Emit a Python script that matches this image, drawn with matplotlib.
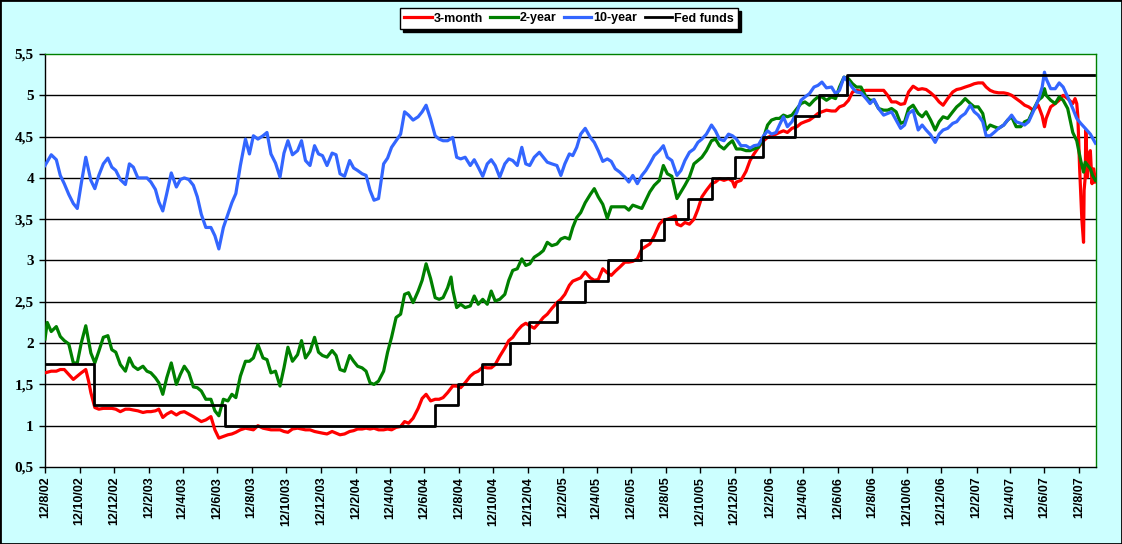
import matplotlib
matplotlib.use("Agg")
import matplotlib.pyplot as plt
import pandas as pd
from matplotlib.lines import Line2D
from matplotlib.patches import Rectangle

# ---------------- data ----------------
# Common sampling dates: 12 Aug 2002, 23 Aug 2002, then the 1st/8th/15th/23rd
# of every month Sep 2002 .. Aug 2007, then 1 Sep 2007.
first_dates = ["2002-08-12", "2002-08-23"]
week_days = [1, 8, 15, 23]
month_start, month_end = "2002-09", "2007-08"
last_dates = ["2007-09-01"]

ten_year = [
    4.15, 4.28,
    4.22, 4.03, 3.93, 3.80, 3.69, 3.63, 3.93, 4.25, 3.97, 3.87, 4.03, 4.17, 4.24, 4.13, 4.09, 3.98,
    3.92, 4.17, 4.13, 4.00, 4.00, 4.00, 3.95, 3.86, 3.71, 3.60, 3.81, 4.06, 3.89, 3.98, 4.00, 3.98,
    3.91, 3.77, 3.56, 3.40, 3.40, 3.30, 3.14, 3.40, 3.56, 3.70, 3.81, 4.15, 4.47, 4.29, 4.51, 4.47,
    4.51, 4.55, 4.29, 4.18, 4.01, 4.30, 4.45, 4.28, 4.33, 4.45, 4.21, 4.15, 4.39, 4.29, 4.27, 4.15,
    4.30, 4.28, 4.05, 4.02, 4.21, 4.12, 4.09, 4.05, 4.03, 3.85, 3.73, 3.75, 4.17, 4.24, 4.37, 4.45,
    4.53, 4.80, 4.76, 4.70, 4.74, 4.80, 4.88, 4.71, 4.51, 4.47, 4.45, 4.45, 4.49, 4.25, 4.23, 4.25,
    4.15, 4.22, 4.13, 4.02, 4.17, 4.22, 4.15, 4.01, 4.17, 4.23, 4.21, 4.15, 4.37, 4.17, 4.15, 4.25,
    4.31, 4.25, 4.19, 4.17, 4.15, 4.03, 4.17, 4.29, 4.27, 4.37, 4.53, 4.60, 4.49, 4.43, 4.33, 4.20,
    4.23, 4.20, 4.11, 4.07, 4.01, 3.95, 4.03, 3.93, 4.03, 4.09, 4.17, 4.27, 4.33, 4.39, 4.25, 4.21,
    4.03, 4.09, 4.21, 4.31, 4.35, 4.43, 4.47, 4.53, 4.64, 4.57, 4.47, 4.45, 4.53, 4.51, 4.47, 4.39,
    4.39, 4.36, 4.39, 4.40, 4.51, 4.57, 4.53, 4.55, 4.64, 4.74, 4.62, 4.68, 4.80, 4.94, 4.98, 5.02,
    5.10, 5.12, 5.16, 5.09, 5.10, 5.02, 5.06, 5.22, 5.16, 5.09, 5.04, 5.03, 4.96, 4.90, 4.95, 4.84,
    4.76, 4.78, 4.80, 4.70, 4.60, 4.64, 4.78, 4.82, 4.58, 4.64, 4.58, 4.52, 4.43, 4.53, 4.58, 4.60,
    4.66, 4.68, 4.74, 4.78, 4.88, 4.80, 4.76, 4.68, 4.51, 4.51, 4.55, 4.60, 4.64, 4.70, 4.76, 4.68,
    4.66, 4.64, 4.68, 4.80, 4.94, 5.10, 5.20, 5.08, 5.08, 5.15, 5.10, 4.98, 4.84, 4.72, 4.66, 4.60,
    4.53,
]
ten_year_extra_dates = ["2007-06-12", "2007-09-10"]
ten_year_extra = [5.28, 4.42]

two_year = [
    2.05, 2.14,
    2.20, 2.08, 2.03, 1.99, 1.76, 1.76, 2.00, 2.21, 1.88, 1.76, 1.90, 2.07, 2.09, 1.92, 1.89, 1.74,
    1.66, 1.82, 1.72, 1.68, 1.72, 1.66, 1.64, 1.58, 1.52, 1.38, 1.58, 1.76, 1.50, 1.62, 1.72, 1.64,
    1.47, 1.46, 1.42, 1.32, 1.32, 1.18, 1.12, 1.32, 1.30, 1.38, 1.34, 1.60, 1.78, 1.78, 1.82, 1.98,
    1.82, 1.80, 1.64, 1.66, 1.48, 1.70, 1.95, 1.78, 1.86, 2.03, 1.82, 1.90, 2.07, 1.89, 1.85, 1.83,
    1.91, 1.85, 1.68, 1.66, 1.85, 1.78, 1.72, 1.70, 1.66, 1.52, 1.50, 1.54, 1.66, 1.89, 2.07, 2.31,
    2.35, 2.59, 2.61, 2.49, 2.63, 2.76, 2.96, 2.78, 2.55, 2.53, 2.55, 2.67, 2.65, 2.43, 2.47, 2.43,
    2.45, 2.57, 2.47, 2.53, 2.47, 2.63, 2.51, 2.53, 2.59, 2.76, 2.88, 2.90, 3.02, 2.94, 2.96, 3.04,
    3.08, 3.12, 3.22, 3.18, 3.20, 3.26, 3.28, 3.26, 3.40, 3.52, 3.58, 3.70, 3.80, 3.87, 3.77, 3.68,
    3.51, 3.65, 3.65, 3.65, 3.65, 3.61, 3.67, 3.65, 3.63, 3.73, 3.83, 3.91, 3.97, 4.15, 4.05, 4.02,
    3.75, 3.83, 3.91, 4.01, 4.17, 4.21, 4.25, 4.33, 4.45, 4.47, 4.39, 4.35, 4.41, 4.45, 4.35, 4.35,
    4.33, 4.33, 4.35, 4.37, 4.49, 4.64, 4.70, 4.72, 4.72, 4.76, 4.74, 4.76, 4.84, 4.90, 4.92, 4.88,
    4.94, 4.98, 4.98, 4.94, 4.98, 4.96, 5.10, 5.22, 5.20, 5.14, 5.10, 5.10, 4.98, 4.94, 4.94, 4.84,
    4.82, 4.82, 4.84, 4.80, 4.66, 4.68, 4.84, 4.88, 4.78, 4.74, 4.80, 4.70, 4.58, 4.68, 4.74, 4.72,
    4.80, 4.86, 4.90, 4.96, 4.90, 4.86, 4.86, 4.78, 4.58, 4.64, 4.62, 4.60, 4.64, 4.70, 4.74, 4.62,
    4.62, 4.68, 4.70, 4.82, 4.94, 4.98, 5.00, 4.94, 4.90, 4.98, 4.94, 4.84, 4.55, 4.45, 4.21, 4.19,
    4.11,
]
two_year_extra_dates = ["2002-08-16", "2004-07-29", "2007-06-12", "2007-08-20",
                        "2007-09-05", "2007-09-10"]
two_year_extra = [2.25, 2.80, 5.08, 4.07, 4.03, 3.97]

three_month = [
    1.64, 1.66,
    1.66, 1.68, 1.68, 1.62, 1.56, 1.60, 1.64, 1.68, 1.40, 1.22, 1.20, 1.21, 1.21, 1.21, 1.20, 1.17,
    1.20, 1.20, 1.19, 1.18, 1.16, 1.17, 1.17, 1.18, 1.20, 1.10, 1.14, 1.17, 1.13, 1.16, 1.17, 1.14,
    1.11, 1.08, 1.05, 1.07, 1.11, 0.95, 0.85, 0.87, 0.89, 0.90, 0.92, 0.95, 0.97, 0.96, 0.95, 1.00,
    0.97, 0.96, 0.95, 0.95, 0.95, 0.93, 0.92, 0.96, 0.97, 0.96, 0.95, 0.95, 0.93, 0.92, 0.91, 0.90,
    0.93, 0.91, 0.89, 0.90, 0.93, 0.94, 0.96, 0.96, 0.97, 0.96, 0.97, 0.95, 0.95, 0.96, 0.95, 0.98,
    0.99, 1.05, 1.03, 1.09, 1.21, 1.33, 1.38, 1.30, 1.32, 1.32, 1.34, 1.40, 1.48, 1.48, 1.46, 1.52,
    1.60, 1.64, 1.66, 1.71, 1.70, 1.70, 1.74, 1.84, 1.94, 2.03, 2.07, 2.15, 2.21, 2.24, 2.21, 2.18,
    2.25, 2.31, 2.35, 2.42, 2.49, 2.53, 2.59, 2.70, 2.75, 2.77, 2.79, 2.86, 2.79, 2.76, 2.77, 2.90,
    2.85, 2.82, 2.87, 2.92, 2.98, 2.98, 2.99, 3.02, 3.14, 3.17, 3.20, 3.30, 3.44, 3.49, 3.50, 3.52,
    3.44, 3.42, 3.46, 3.44, 3.50, 3.62, 3.77, 3.85, 3.93, 3.95, 3.99, 3.97, 3.99, 3.96, 3.95, 3.97,
    4.08, 4.21, 4.29, 4.37, 4.45, 4.49, 4.51, 4.53, 4.55, 4.57, 4.55, 4.60, 4.62, 4.66, 4.68, 4.70,
    4.74, 4.78, 4.80, 4.82, 4.81, 4.81, 4.86, 4.88, 4.94, 5.04, 5.06, 5.05, 5.06, 5.06, 5.06, 5.06,
    5.06, 5.00, 4.92, 4.92, 4.89, 4.90, 5.04, 5.11, 5.07, 5.08, 5.07, 5.03, 4.98, 4.92, 4.88, 4.96,
    5.04, 5.07, 5.08, 5.10, 5.12, 5.14, 5.15, 5.15, 5.10, 5.06, 5.04, 5.03, 5.03, 5.02, 5.00, 4.96,
    4.92, 4.88, 4.86, 4.82, 4.88, 4.75, 4.72, 4.86, 4.90, 4.94, 5.00, 4.96, 4.90, 4.90, 3.80, 4.01,
    4.33,
]
three_month_extra_dates = ["2002-10-28", "2005-08-29", "2005-12-12", "2007-06-12",
                           "2007-08-05", "2007-08-10", "2007-08-13", "2007-08-17",
                           "2007-08-20", "2007-08-21", "2007-08-24", "2007-08-27",
                           "2007-08-29", "2007-09-04", "2007-09-07", "2007-09-10"]
three_month_extra = [1.54, 3.54, 3.89, 4.62, 4.96, 4.74, 4.13, 3.50,
                     3.22, 3.85, 4.58, 4.01, 4.25, 3.93, 4.11, 3.95]

fed_dates = ["2002-08-12", "2002-11-06", "2003-06-25", "2004-06-30", "2004-08-10",
             "2004-09-21", "2004-11-10", "2004-12-14", "2005-02-02", "2005-03-22",
             "2005-05-03", "2005-06-30", "2005-08-09", "2005-09-20", "2005-11-01",
             "2005-12-13", "2006-01-31", "2006-03-28", "2006-05-10", "2006-06-29",
             "2007-09-07"]
fed_rate = [1.75, 1.25, 1.00, 1.25, 1.50, 1.75, 2.00, 2.25, 2.50, 2.75, 3.00,
            3.25, 3.50, 3.75, 4.00, 4.25, 4.50, 4.75, 5.00, 5.25, 5.25]

series_names = ["3-month", "2-year", "10-year", "Fed funds"]
series_colors = ["#FF0000", "#008000", "#3366FF", "#000000"]

x_start, x_end = "2002-08-12", "2007-09-11"
tick_labels = ["12/8/02", "12/10/02", "12/12/02", "12/2/03", "12/4/03", "12/6/03",
               "12/8/03", "12/10/03", "12/12/03", "12/2/04", "12/4/04", "12/6/04",
               "12/8/04", "12/10/04", "12/12/04", "12/2/05", "12/4/05", "12/6/05",
               "12/8/05", "12/10/05", "12/12/05", "12/2/06", "12/4/06", "12/6/06",
               "12/8/06", "12/10/06", "12/12/06", "12/2/07", "12/4/07", "12/6/07",
               "12/8/07"]
y_ticks = [0.5, 1.0, 1.5, 2.0, 2.5, 3.0, 3.5, 4.0, 4.5, 5.0, 5.5]

# ---------------- build series ----------------
grid = list(first_dates)
for p in pd.period_range(month_start, month_end, freq="M"):
    for d in week_days:
        grid.append(f"{p.year:04d}-{p.month:02d}-{d:02d}")
grid += last_dates


def make_series(vals, extra_dates, extra_vals):
    assert len(vals) == len(grid), (len(vals), len(grid))
    s = pd.Series(list(vals) + list(extra_vals),
                  index=pd.to_datetime(grid + list(extra_dates)))
    return s.sort_index()


s3m = make_series(three_month, three_month_extra_dates, three_month_extra)
s2y = make_series(two_year, two_year_extra_dates, two_year_extra)
s10 = make_series(ten_year, ten_year_extra_dates, ten_year_extra)
sff = pd.Series(fed_rate, index=pd.to_datetime(fed_dates))
tick_dates = pd.to_datetime(tick_labels, format="%d/%m/%y")

# ---------------- figure ----------------
W, H = 1122, 544
fig = plt.figure(figsize=(W / 100, H / 100), dpi=100, facecolor="#CCFFFF")
ax = fig.add_axes([45 / W, 1 - 467 / H, (1096 - 45) / W, (467 - 54) / H])
ax.set_facecolor("white")

for yv in y_ticks[1:-1]:
    ax.axhline(yv, color="black", linewidth=1.0, zorder=1)

lw = 2.3
ax.plot(s3m.index, s3m.values, color=series_colors[0], lw=lw, zorder=3)
ax.plot(s2y.index, s2y.values, color=series_colors[1], lw=lw, zorder=4)
ax.plot(s10.index, s10.values, color=series_colors[2], lw=lw, zorder=5)
ax.plot(sff.index, sff.values, color=series_colors[3], lw=2.0, zorder=6,
        drawstyle="steps-post")

ax.set_xlim(pd.Timestamp(x_start), pd.Timestamp(x_end))
ax.set_ylim(y_ticks[0], y_ticks[-1])

ax.set_yticks(y_ticks)
ax.set_yticklabels([("%g" % v).replace(".", ",") for v in y_ticks],
                   fontfamily="Liberation Serif", fontweight="bold", fontsize=11)
ax.set_xticks(tick_dates)
ax.set_xticklabels(tick_labels, rotation=90,
                   fontfamily="Liberation Sans", fontweight="bold", fontsize=9)
ax.tick_params(axis="both", direction="out", length=4, width=1, color="black")
ax.tick_params(axis="x", pad=3)
ax.tick_params(axis="y", pad=4)

for side in ["left", "bottom"]:
    ax.spines[side].set_color("black")
    ax.spines[side].set_linewidth(1.0)
for side in ["top", "right"]:
    ax.spines[side].set_color("#008000")
    ax.spines[side].set_linewidth(1.0)

handles = [Line2D([], [], color=c, lw=2.3 if i < 3 else 2.0)
           for i, c in enumerate(series_colors)]
leg = fig.legend(handles, series_names, loc="center",
                 bbox_to_anchor=(569 / W, 1 - 18.5 / H), ncol=4,
                 prop={"family": "Liberation Sans", "weight": "bold", "size": 9},
                 frameon=True, fancybox=False, shadow={"color": "black", "alpha": 1.0},
                 handlelength=2.2, handletextpad=0.15, columnspacing=0.6,
                 borderpad=0.35, borderaxespad=0)
leg.get_frame().set_edgecolor("black")
leg.get_frame().set_linewidth(1.0)
leg.get_frame().set_facecolor("white")

fig.patches.append(Rectangle((0, 0), 1, 1, transform=fig.transFigure, fill=False,
                             edgecolor="black", linewidth=2.0, zorder=10))

fig.savefig("out.png", dpi=100, facecolor=fig.get_facecolor())
